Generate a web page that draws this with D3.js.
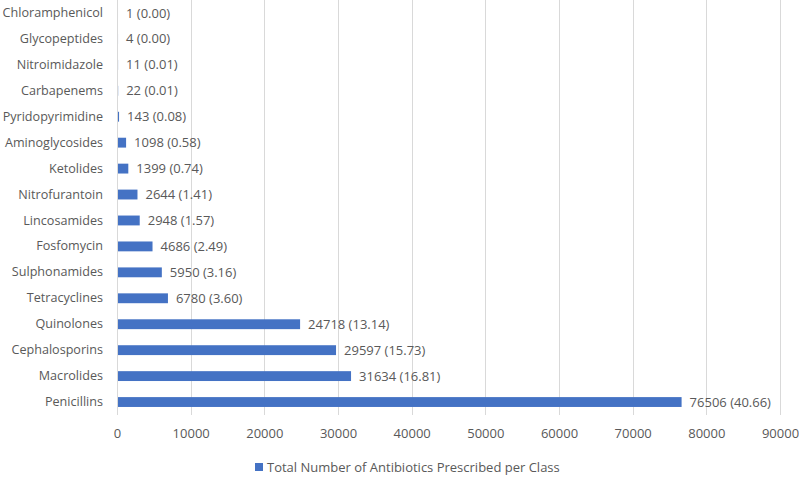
<!DOCTYPE html>
<html>
<head>
<meta charset="utf-8">
<script src="https://cdn.jsdelivr.net/npm/d3@7"></script>
<style>
  body { margin: 0; background: #fff; }
  text { font-family: "Open Sans", sans-serif; fill: #595959; }
</style>
</head>
<body>
<script>
const classes = ["Chloramphenicol", "Glycopeptides", "Nitroimidazole", "Carbapenems",
  "Pyridopyrimidine", "Aminoglycosides", "Ketolides", "Nitrofurantoin", "Lincosamides",
  "Fosfomycin", "Sulphonamides", "Tetracyclines", "Quinolones", "Cephalosporins",
  "Macrolides", "Penicillins"];
const counts = [1, 4, 11, 22, 143, 1098, 1399, 2644, 2948, 4686, 5950, 6780, 24718, 29597, 31634, 76506];
const percents = ["0.00", "0.00", "0.01", "0.01", "0.08", "0.58", "0.74", "1.41", "1.57",
  "2.49", "3.16", "3.60", "13.14", "15.73", "16.81", "40.66"];
const xTicks = [0, 10000, 20000, 30000, 40000, 50000, 60000, 70000, 80000, 90000];
const legendLabel = "Total Number of Antibiotics Prescribed per Class";

const barColor = "#4472C4";
const gridColor = "#d9d9d9";

var width = 799,
  height = 477;
var plot = { left: 117, right: 780, top: 0, bottom: 415 };

var svg = d3.select("body").append("svg")
  .attr("width", width)
  .attr("height", height);

var xScale = d3.scaleLinear().domain([0, 90000]).range([plot.left, plot.right]);
var yScale = d3.scaleBand().domain(classes).range([plot.top, plot.bottom]).paddingInner(0.62).paddingOuter(0.31);

// gridlines
svg.append("g")
  .selectAll("line")
  .data(xTicks)
  .enter()
  .append("line")
  .attr("x1", d => Math.round(xScale(d)) + 0.5)
  .attr("x2", d => Math.round(xScale(d)) + 0.5)
  .attr("y1", plot.top)
  .attr("y2", plot.bottom)
  .style("stroke", gridColor)
  .style("stroke-width", 1);

// bars
svg.append("g")
  .selectAll("rect")
  .data(classes)
  .enter()
  .append("rect")
  .attr("x", xScale(0) + 1)
  .attr("y", d => yScale(d))
  .attr("width", (d, i) => Math.max(0, xScale(counts[i]) - xScale(0)))
  .attr("height", yScale.bandwidth())
  .style("fill", barColor);

// value labels
svg.append("g")
  .selectAll("text")
  .data(classes)
  .enter()
  .append("text")
  .attr("x", (d, i) => xScale(counts[i]) + 9)
  .attr("y", d => yScale(d) + yScale.bandwidth() / 2)
  .attr("dy", "0.35em")
  .style("font-size", "13px")
  .text((d, i) => `${counts[i]} (${percents[i]})`);

// y axis
var yAxis = d3.axisLeft(yScale).tickSize(0).tickPadding(14);
var yG = svg.append("g")
  .attr("transform", `translate(${plot.left}, 0)`)
  .call(yAxis);
yG.select(".domain").remove();
yG.selectAll("text").style("font-size", "12.6px").style("fill", "#595959").style("font-family", "Open Sans");

// x axis
var xAxis = d3.axisBottom(xScale).tickValues(xTicks).tickFormat(d3.format("d")).tickSize(0).tickPadding(14);
var xG = svg.append("g")
  .attr("transform", `translate(0, ${plot.bottom})`)
  .call(xAxis);
xG.select(".domain").remove();
xG.selectAll("text").style("font-size", "13px").style("fill", "#595959").style("font-family", "Open Sans");

// legend
var legend = svg.append("g").attr("transform", "translate(255, 467)");
legend.append("rect")
  .attr("x", 0).attr("y", -4)
  .attr("width", 8).attr("height", 8)
  .style("fill", barColor);
legend.append("text")
  .attr("x", 12)
  .attr("dy", "0.35em")
  .style("font-size", "13px")
  .text(legendLabel);
</script>
</body>
</html>
